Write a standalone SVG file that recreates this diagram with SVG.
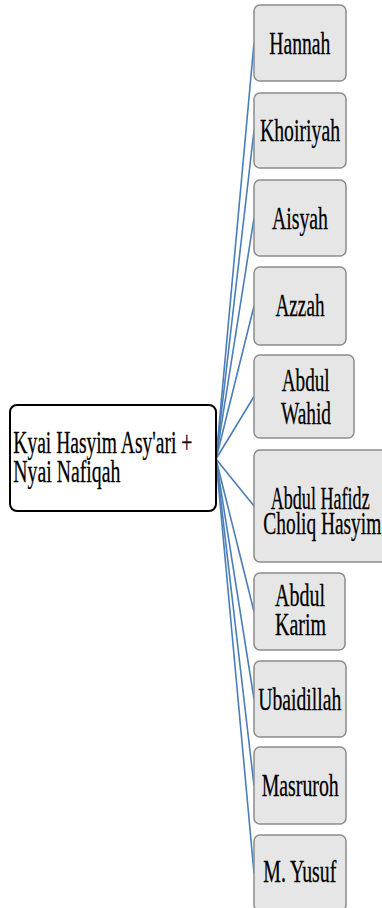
<svg xmlns="http://www.w3.org/2000/svg" width="382" height="908" viewBox="0 0 382 908">
<style>
.bg{fill:#ffffff}
.root{fill:#ffffff;stroke:#000000;stroke-width:2}
.child{fill:#e6e6e6;stroke:#8c8c8c;stroke-width:1.5}
.t{font-family:'Liberation Serif','Times New Roman',serif;font-size:32px;fill:#000000;stroke:#000000;stroke-width:0.3}
.conn path{fill:none;stroke:#4a7eb6;stroke-width:1.6}
</style>
<rect class="bg" x="0" y="0" width="382" height="908"/>
<g id="connectors" class="conn">
<path d="M216,459 L254,43"/>
<path d="M216,459 L254,130.5"/>
<path d="M216,459 L254,218"/>
<path d="M216,459 L254,306"/>
<path d="M216,459 L254,396.5"/>
<path d="M216,459 L254,506"/>
<path d="M216,459 L254,611.5"/>
<path d="M216,459 L254,699"/>
<path d="M216,459 L254,785.5"/>
<path d="M216,459 L254,873"/>
</g>
<g id="root">
<rect class="root" x="10" y="405" width="206" height="106" rx="7"/>
<text class="t" x="13.3" y="453" textLength="179" lengthAdjust="spacingAndGlyphs">Kyai Hasyim Asy'ari +</text>
<text class="t" x="13.3" y="482" textLength="107" lengthAdjust="spacingAndGlyphs">Nyai Nafiqah</text>
</g>
<g id="hannah">
<rect class="child" x="254" y="5" width="92" height="76" rx="6"/>
<text class="t" x="269.3" y="53.5" textLength="61" lengthAdjust="spacingAndGlyphs">Hannah</text>
</g>
<g id="khoiriyah">
<rect class="child" x="254" y="93" width="92" height="75" rx="6"/>
<text class="t" x="260" y="140.5" textLength="80" lengthAdjust="spacingAndGlyphs">Khoiriyah</text>
</g>
<g id="aisyah">
<rect class="child" x="254" y="180" width="92" height="76" rx="6"/>
<text class="t" x="272" y="228.5" textLength="56" lengthAdjust="spacingAndGlyphs">Aisyah</text>
</g>
<g id="azzah">
<rect class="child" x="254" y="267" width="92" height="78" rx="6"/>
<text class="t" x="275.5" y="316" textLength="49" lengthAdjust="spacingAndGlyphs">Azzah</text>
</g>
<g id="abdul-wahid">
<rect class="child" x="254" y="355" width="100" height="83" rx="6"/>
<text class="t" x="281.7" y="391" textLength="48" lengthAdjust="spacingAndGlyphs">Abdul</text>
<text class="t" x="281" y="424" textLength="50" lengthAdjust="spacingAndGlyphs">Wahid</text>
</g>
<g id="abdul-hafidz">
<rect class="child" x="254" y="450" width="134" height="112" rx="6"/>
<text class="t" x="270.7" y="508.5" textLength="99" lengthAdjust="spacingAndGlyphs">Abdul Hafidz</text>
<text class="t" x="263.3" y="533.5" textLength="118" lengthAdjust="spacingAndGlyphs">Choliq Hasyim</text>
</g>
<g id="abdul-karim">
<rect class="child" x="254" y="573" width="91" height="77" rx="6"/>
<text class="t" x="275" y="605.5" textLength="50" lengthAdjust="spacingAndGlyphs">Abdul</text>
<text class="t" x="275" y="635" textLength="51" lengthAdjust="spacingAndGlyphs">Karim</text>
</g>
<g id="ubaidillah">
<rect class="child" x="254" y="661" width="92" height="76" rx="6"/>
<text class="t" x="258.3" y="709.5" textLength="83" lengthAdjust="spacingAndGlyphs">Ubaidillah</text>
</g>
<g id="masruroh">
<rect class="child" x="254" y="747" width="92" height="77" rx="6"/>
<text class="t" x="261.7" y="795.5" textLength="77" lengthAdjust="spacingAndGlyphs">Masruroh</text>
</g>
<g id="m-yusuf">
<rect class="child" x="254" y="835" width="92" height="76" rx="6"/>
<text class="t" x="263.3" y="882" textLength="73" lengthAdjust="spacingAndGlyphs">M. Yusuf</text>
</g>
</svg>
